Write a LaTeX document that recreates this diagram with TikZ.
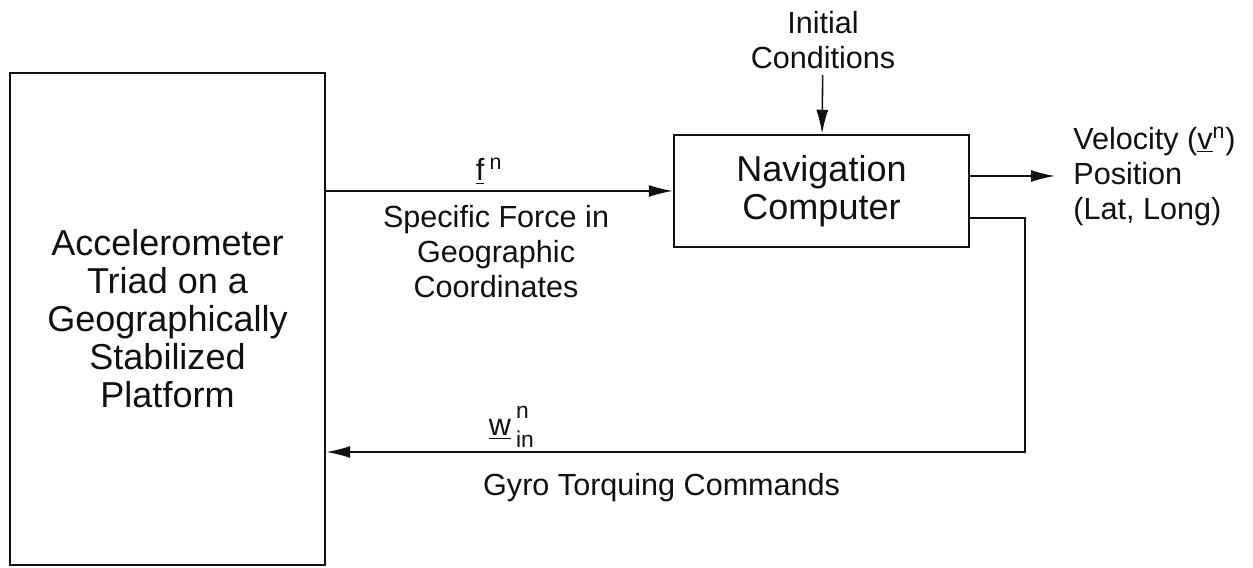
\documentclass[tikz,border=0pt]{standalone}
\usepackage{fontspec}
\setmainfont{Liberation Sans}
\definecolor{ink}{RGB}{17,17,17}
\usetikzlibrary{arrows.meta, positioning}
\tikzset{
	block/.style={rectangle, draw=ink, line width=1.4pt, align=center, text=ink, font=\fontsize{20.5}{21.6}\selectfont},
	lbl/.style={align=center, text=ink, font=\fontsize{17.4}{19.9}\selectfont},
	arrow/.style={-{Latex[length=4.8mm, width=2.4mm]}, line width=0.9pt, draw=ink},
}
\newcommand{\idxfont}{\fontsize{13}{13}\selectfont}

\begin{document}
\begin{tikzpicture}
	\useasboundingbox (0,0) rectangle (25.06,11.34);
	\node[block, minimum width=6.3cm, minimum height=9.84cm] (accel) at (3.35,4.96) {Accelerometer\\Triad on a\\Geographically\\Stabilized\\Platform};
	\node[block, minimum width=5.9cm, minimum height=2.24cm] (nav) at (16.43,7.52) {Navigation\\Computer};
	\node[lbl] (init) at (16.46,10.54) {Initial\\Conditions};
	\node[lbl, align=left, anchor=west, inner xsep=0.36cm] (out) at (21.1,7.82) {Velocity (\underline{v}\textsuperscript{n})\\Position\\(Lat, Long)};
	\coordinate (fbturn) at (20.5,2.3);
	% signal flow
	\draw[arrow] (init) -- (nav);
	\draw[arrow] (accel.east |- nav.west) -- node[lbl, above, pos=0.47] (flbl) {\underline{f}\,\textsuperscript{n}} node[lbl, below, pos=0.49, yshift=-0.16cm] (sflbl) {Specific Force in\\Geographic\\Coordinates} (nav.west);
	\draw[arrow] (nav.east |- out.west) -- (out.west);
	\draw[arrow] ([yshift=-0.54cm]nav.east) -| (fbturn) -- node[lbl, above, pos=0.735, yshift=-0.05cm] (wlbl) {\underline{w}\,\raisebox{-0.4em}{\shortstack[l]{\idxfont n\\[4pt]\idxfont in}}} node[lbl, below, pos=0.52, yshift=-0.3cm] (gyrolbl) {Gyro Torquing Commands} (accel.east |- fbturn);
\end{tikzpicture}
\end{document}
